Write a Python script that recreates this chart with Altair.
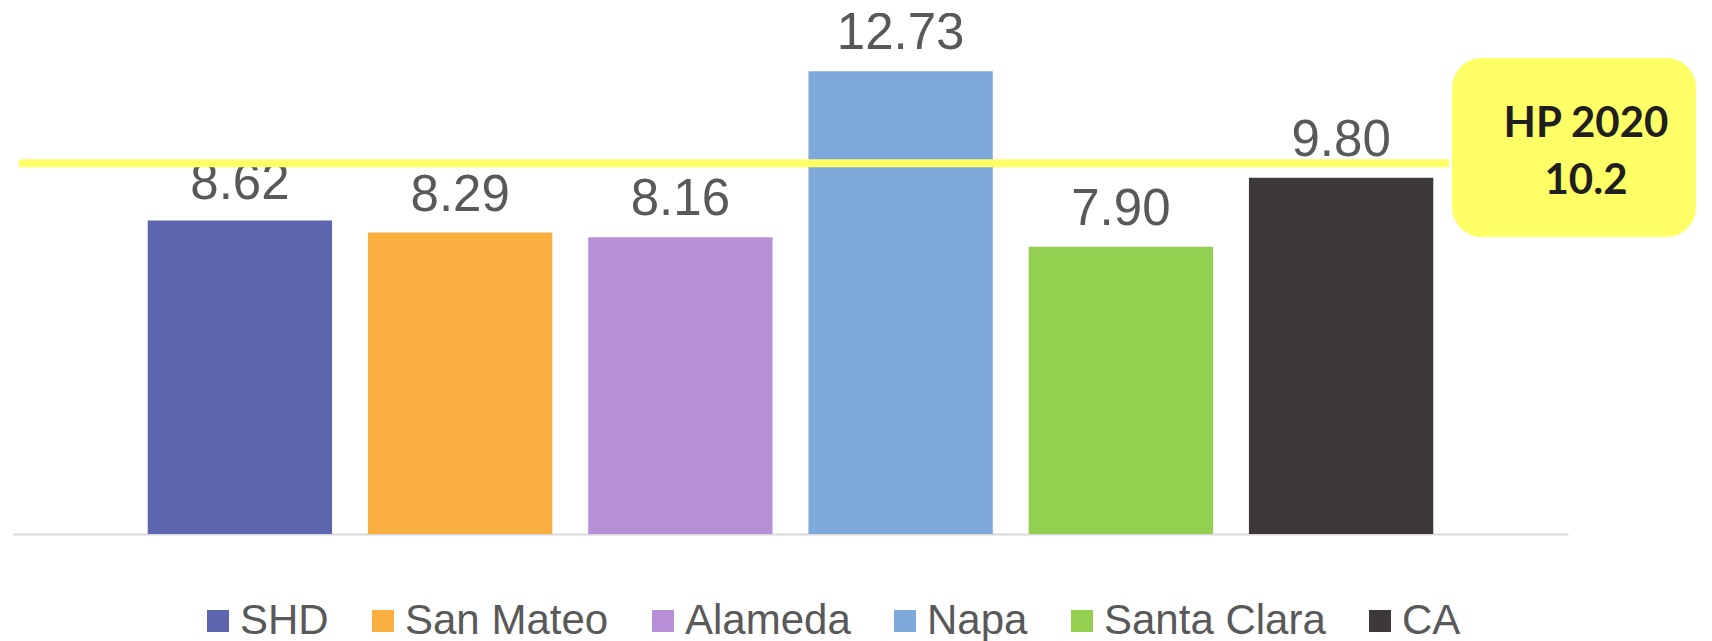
import altair as alt
import pandas as pd

categories = ["SHD", "San Mateo", "Alameda", "Napa", "Santa Clara", "CA"]
values = [8.62, 8.29, 8.16, 12.73, 7.90, 9.80]
colors = ["#5D65AE", "#FBAF41", "#B68FD6", "#80A9DB", "#94D04F", "#3D3938"]
target_value = 10.2
target_title = "HP 2020"
target_text = "10.2"

df = pd.DataFrame({"cat": categories, "val": values,
                   "target": [target_value] * len(categories)})

yscale = alt.Scale(domain=[0, 14.33], nice=False, zero=True)
xscale = alt.Scale(paddingInner=0.163, paddingOuter=0.6117)

bars = alt.Chart(df).mark_bar().encode(
    x=alt.X("cat:N", sort=categories, scale=xscale,
            axis=alt.Axis(labels=False, ticks=False, title=None,
                          domainColor="#D9D9D9", domainWidth=2)),
    y=alt.Y("val:Q", scale=yscale, axis=None),
    color=alt.Color("cat:N", sort=categories,
                    scale=alt.Scale(domain=categories, range=colors),
                    legend=alt.Legend(orient="bottom", direction="horizontal", title=None,
                                      symbolType="square", symbolSize=484,
                                      symbolStrokeWidth=0,
                                      labelFont="Liberation Sans", labelFontSize=42,
                                      labelColor="#595959", labelOffset=1,
                                      columnPadding=33, labelLimit=600,
                                      padding=184, offset=-118)),
)

labels = alt.Chart(df).mark_text(
    font="Liberation Sans", fontSize=51, color="#595959",
    baseline="alphabetic", align="center", dy=-22, clip=True,
).encode(
    x=alt.X("cat:N", sort=categories),
    y=alt.Y("val:Q"),
    text=alt.Text("val:Q", format=".2f"),
)

one = alt.Chart(df).transform_filter(alt.datum.cat == "CA")

line = one.mark_rule(color="#FFFF66", strokeWidth=8).encode(
    y=alt.Y("target:Q"),
    x=alt.value(6),
    x2=alt.value(1436),
)

box = one.transform_calculate(box_top="13.09", box_bottom="8.17").mark_rect(
    color="#FFFF66", cornerRadius=30
).encode(
    y=alt.Y("box_top:Q"),
    y2=alt.Y2("box_bottom:Q"),
    x=alt.value(1439),
    x2=alt.value(1683),
)

title_text = one.mark_text(
    text=target_title, font="Lato", fontWeight="bold", fontSize=42,
    color="#1F1F1F", align="center", baseline="alphabetic",
).encode(x=alt.value(1573), y=alt.value(124))

value_text = one.mark_text(
    text=target_text, font="Lato", fontWeight="bold", fontSize=42,
    color="#1F1F1F", align="center", baseline="alphabetic",
).encode(x=alt.value(1573), y=alt.value(181))

chart = alt.layer(bars, labels, line, box, title_text, value_text).properties(
    width=1555, height=521,
).configure_view(strokeWidth=0)

chart.save("out.html", embed_options={"renderer": "svg", "actions": False})
